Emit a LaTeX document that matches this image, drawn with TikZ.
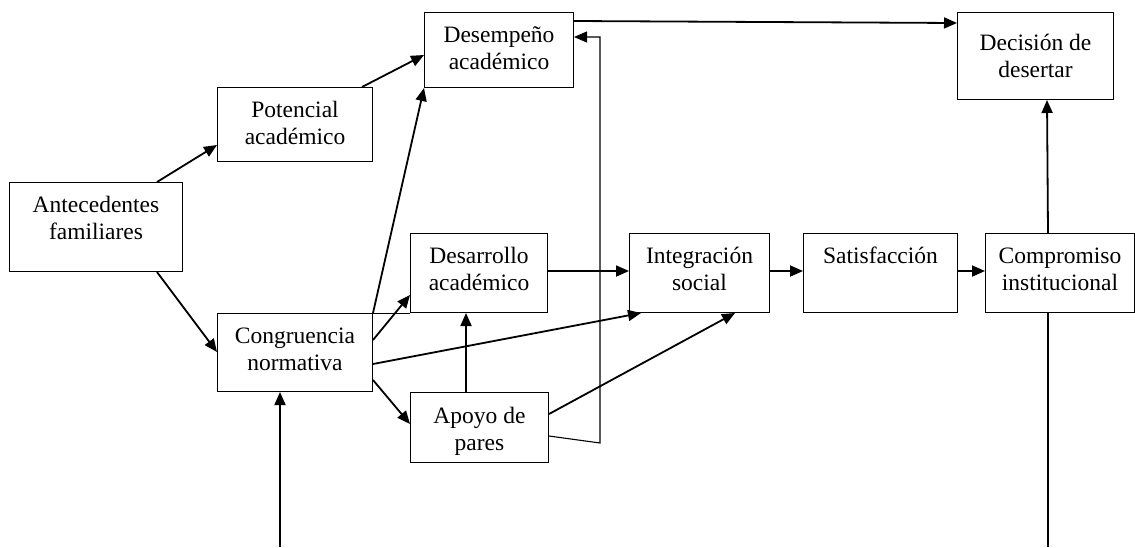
\documentclass[tikz,border=0pt]{standalone}
\usepackage{fontspec}
\setmainfont{Liberation Serif}
\usetikzlibrary{calc,arrows.meta}
\begin{document}
\begin{tikzpicture}[x=1pt,y=-1pt,
  box/.style={draw,line width=1pt,rectangle,inner sep=0pt,anchor=north west},
  txt/.style={anchor=base,align=center,inner sep=0pt,font=\fontsize{23.5}{27.7}\selectfont},
  arr/.style={line width=1.8pt,-{Triangle[length=13pt,width=11pt]}},
  ln/.style={line width=1.8pt}]
\useasboundingbox (0,0) rectangle (1135,547);
% boxes
\node[box,minimum width=149pt,minimum height=75pt] (des) at (424,12) {};
\node[box,minimum width=156pt,minimum height=87pt] (dec) at (957,12) {};
\node[box,minimum width=155pt,minimum height=74pt] (pot) at (217,87) {};
\node[box,minimum width=173pt,minimum height=89pt] (ant) at (9,182) {};
\node[box,minimum width=155pt,minimum height=78pt] (cong) at (217,313) {};
\node[box,minimum width=137pt,minimum height=79pt] (desa) at (410,233) {};
\node[box,minimum width=138pt,minimum height=70pt] (apo) at (410,392) {};
\node[box,minimum width=140pt,minimum height=79pt] (integ) at (629,233) {};
\node[box,minimum width=154pt,minimum height=79pt] (sat) at (803,233) {};
\node[box,minimum width=149pt,minimum height=79pt] (comp) at (985,233) {};
% texts (base = baseline of last line)
\node[txt] (tdes) at ($(des.north)+(0,57.7)$) {Desempeño\\académico};
\node[txt] (tdec) at ($(dec.north)+(0,65.7)$) {Decisión de\\desertar};
\node[txt] (tpot) at ($(pot.north)+(0,57.7)$) {Potencial\\académico};
\node[txt] (tant) at ($(ant.north)+(0,57.7)$) {Antecedentes\\familiares};
\node[txt] (tcong) at ($(cong.north)+(0,57.7)$) {Congruencia\\normativa};
\node[txt] (tdesa) at ($(desa.north)+(0,57.7)$) {Desarrollo\\académico};
\node[txt] (tapo) at ($(apo.north)+(0,58.7)$) {Apoyo de\\pares};
\node[txt] (tinteg) at ($(integ.north)+(0,57.7)$) {Integración\\social};
\node[txt] (tsat) at ($(sat.north)+(0,30)$) {Satisfacción};
\node[txt] (tcomp) at ($(comp.north)+(0,57.7)$) {Compromiso\\institucional};
% free ends
\coordinate (k1) at (600,443);
\coordinate (b1) at (280,547);
\coordinate (b2) at (1048,547);
% connectors
\draw[arr] ($(ant.north west)+(148,0)$) -- ($(pot.north west)+(0,58)$);
\draw[arr] ($(ant.south west)+(148,0)$) -- ($(cong.north west)+(0,39)$);
\draw[arr] ($(pot.north west)+(145,0)$) -- ($(des.north west)+(0,43)$);
\draw[arr] (cong.north east) -- (des.south west);
\draw[line width=1pt] (cong.north east) -- (desa.south west);
\draw[arr] ($(cong.north east)+(0,27)$) -- ($(desa.north west)+(0,62)$);
\draw[arr] ($(cong.north east)+(0,51)$) -- ($(integ.south west)+(12,0)$);
\draw[arr] ($(cong.north east)+(0,67)$) -- ($(apo.north west)+(0,32)$);
\draw[arr] ($(apo.north west)+(56,0)$) -- ($(desa.south west)+(56,0)$);
\draw[arr] ($(desa.north east)+(0,38)$) -- ($(integ.north west)+(0,38)$);
\draw[arr] ($(apo.north east)+(0,22)$) -- ($(integ.south west)+(106,0)$);
\draw[line width=1.1pt,-{Triangle[length=13pt,width=11pt]}] ($(apo.north east)+(0,44)$) -- (k1) |- ($(des.north east)+(0,25)$);
\draw[arr] ($(integ.north east)+(0,38)$) -- ($(sat.north west)+(0,38)$);
\draw[arr] ($(sat.north east)+(0,38)$) -- ($(comp.north west)+(0,38)$);
\draw[arr] ($(comp.north west)+(63,0)$) -- ($(dec.south west)+(90,0)$);
\draw[arr] ($(des.north east)+(0,9)$) -- ($(dec.north west)+(0,11)$);
\draw[arr] (b1) -- ($(cong.south west)+(63,0)$);
\draw[ln] ($(comp.south west)+(63,0)$) -- (b2);
\end{tikzpicture}
\end{document}
